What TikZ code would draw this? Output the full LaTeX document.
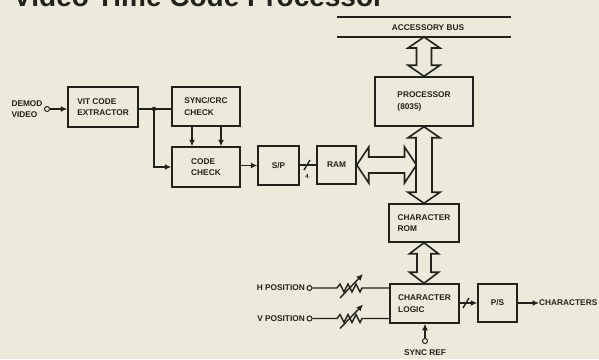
\documentclass[tikz,border=0pt]{standalone}
\usepackage{fontspec}
\setmainfont{Liberation Sans}
\usetikzlibrary{calc,arrows.meta}
\definecolor{paper}{RGB}{236,235,219}
\definecolor{ink}{RGB}{34,34,28}
\newcommand\fatvert[5]{%
  \draw[fatarrow] let \p1=#1, \p2=#2 in
   (\x1,\y1) -- (\x1+#4,\y1-#5) -- (\x1+#3,\y1-#5) -- (\x1+#3,\y2+#5) -- (\x1+#4,\y2+#5)
   -- (\x1,\y2) -- (\x1-#4,\y2+#5) -- (\x1-#3,\y2+#5) -- (\x1-#3,\y1-#5) -- (\x1-#4,\y1-#5) -- cycle;}
\newcommand\fathoriz[5]{%
  \draw[fatarrow] let \p1=#1, \p2=#2 in
   (\x1,\y1) -- (\x1+#5,\y1+#4) -- (\x1+#5,\y1+#3) -- (\x2-#5,\y1+#3) -- (\x2-#5,\y1+#4)
   -- (\x2,\y1) -- (\x2-#5,\y1-#4) -- (\x2-#5,\y1-#3) -- (\x1+#5,\y1-#3) -- (\x1+#5,\y1-#4) -- cycle;}
\tikzset{
  blk/.style={draw=ink, line width=1.5pt, fill=paper, align=left, inner sep=0pt,
    font=\fontsize{8.3}{11.5}\selectfont\bfseries, text=ink},
  lbl/.style={font=\fontsize{8.3}{10.5}\selectfont\bfseries, text=ink, inner sep=0pt, align=left},
  wire/.style={draw=ink, line width=1.4pt},
  arr/.style={wire, -{Latex[length=6.5pt,width=6pt]}},
  fatarrow/.style={draw=ink, line width=1.6pt, fill=paper, line join=miter},
  term/.style={circle, draw=ink, line width=1pt, fill=paper, inner sep=0pt, minimum size=5pt},
  jdot/.style={circle, fill=ink, inner sep=0pt, minimum size=4.5pt},
}
\begin{document}
\begin{tikzpicture}[x=1pt,y=-1pt]
\fill[paper] (0,0) rectangle (599,359);
\clip (0,0) rectangle (599,359);
% title (cut off at top, as in the reference)
\node[anchor=base west, inner sep=0pt, text=ink, font=\fontsize{28}{28}\selectfont\bfseries] (title) at (13,6.5) {Video Time Code Processor};

% accessory bus
\coordinate (busAL) at (337,17); \coordinate (busAR) at (511,17);
\coordinate (busBL) at (337,37); \coordinate (busBR) at (511,37);
\draw[wire] (busAL) -- (busAR);
\draw[wire] (busBL) -- (busBR);
\node[lbl] (buslbl) at (428,28) {ACCESSORY BUS};
\coordinate (bustap) at (424,37);

% blocks
\node[blk, minimum width=70pt, minimum height=40pt] (vit) at (103,107) {VIT CODE\\EXTRACTOR};
\node[blk, minimum width=68pt, minimum height=39pt] (sync) at (206,106.5) {SYNC/CRC\\CHECK};
\node[blk, minimum width=68pt, minimum height=40pt] (code) at (206,167) {CODE\\CHECK};
\node[blk, minimum width=41pt, minimum height=39pt] (sp) at (278.5,165.5) {S/P};
\node[blk, minimum width=39pt, minimum height=38pt] (ram) at (336.5,165) {RAM};
\node[blk, minimum width=98pt, minimum height=49pt] (proc) at (424,101.5) {PROCESSOR\\(8035)};
\node[blk, minimum width=70pt, minimum height=38pt] (rom) at (424,223) {CHARACTER\\ROM};
\node[blk, minimum width=69pt, minimum height=39pt] (logic) at (424.5,303.5) {CHARACTER\\LOGIC};
\node[blk, minimum width=39pt, minimum height=38pt] (ps) at (497.5,303) {P/S};

% fat bus arrows
\fatvert{(bustap)}{(proc.north)}{7.5pt}{16pt}{11pt}
\coordinate (tapR) at (416.5,165);
\fathoriz{(ram.east)}{(tapR)}{8pt}{18pt}{12pt}
\fatvert{(proc.south)}{(rom.north)}{8pt}{16pt}{11pt}
\fatvert{(rom.south)}{(logic.north)}{7pt}{14.5pt}{11pt}

% input
\node[lbl] (demod) at (27,109) {DEMOD\\VIDEO};
\node[term] (din) at (47,109) {};
\draw[arr] (din) -- (din -| vit.west);

% VIT -> sync / code
\node[jdot] (j1) at (154,109) {};
\draw[wire] (vit.east |- j1) -- (j1 -| sync.west);
\draw[arr] (j1.center) |- (code.west);
\draw[arr] ([xshift=-14pt]sync.south) -- ([xshift=-14pt]code.north);
\draw[arr] ([xshift=15pt]sync.south) -- ([xshift=15pt]code.north);

% code -> S/P -> RAM
\draw[arr] (code.east |- sp.west) -- (sp.west);
\draw[wire] (sp.east |- ram.west) -- (ram.west);
\coordinate (sl1) at (307,165);
\draw[wire] ($(sl1)+(-3,5)$) -- ($(sl1)+(3,-5)$);
\node[font=\fontsize{6}{6}\selectfont\bfseries, text=ink, inner sep=0pt] (four) at (307,176) {4};

% logic -> P/S -> out
\draw[arr] (logic.east |- ps.west) -- (ps.west);
\coordinate (sl2) at (466,303);
\draw[wire] ($(sl2)+(-3,5)$) -- ($(sl2)+(3,-5)$);
\node[lbl, anchor=west] (chars) at (539,303) {CHARACTERS};
\draw[arr] (ps.east) -- (chars.west);

% sync ref
\node[term] (sref) at (425,341) {};
\draw[arr] (sref) -- (sref |- logic.south);
\node[lbl] (sreflbl) at (425,353) {SYNC REF};

% H position
\node[lbl, anchor=east] (hpos) at (305,288) {H POSITION};
\node[term] (hin) at (309.5,288) {};
\coordinate (hr1) at (337,288); \coordinate (hr2) at (362,288);
\draw[wire, line join=miter] (hin) -- (hr1) -- ++(3,-4) -- ++(4,8) -- ++(4,-8) -- ++(4,8) -- ++(4,-8) -- ++(4,8) -- (hr2) -- (hr2 -| logic.west);
\draw[arr] ($(hr1)+(3,10)$) -- ($(hr2)+(1,-14)$);

% V position
\node[lbl, anchor=east] (vpos) at (305,318.5) {V POSITION};
\node[term] (vin) at (309.5,318.5) {};
\coordinate (vr1) at (337,318.5); \coordinate (vr2) at (362,318.5);
\draw[wire, line join=miter] (vin) -- (vr1) -- ++(3,-4) -- ++(4,8) -- ++(4,-8) -- ++(4,8) -- ++(4,-8) -- ++(4,8) -- (vr2) -- (vr2 -| logic.west);
\draw[arr] ($(vr1)+(3,10)$) -- ($(vr2)+(1,-14)$);
\end{tikzpicture}
\end{document}
